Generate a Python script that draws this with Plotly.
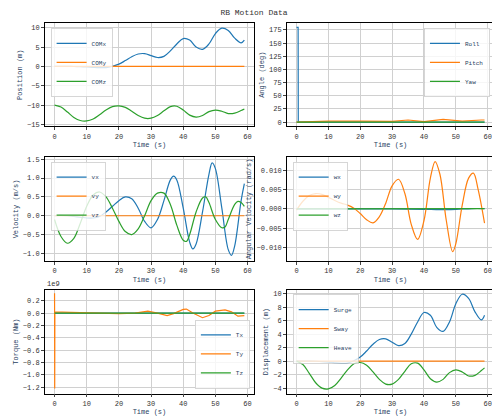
import plotly.graph_objects as go

C1, C2, C3 = "#1f77b4", "#ff7f0e", "#2ca02c"

# Position / displacement (m)
t_pos = [0,2,4,6,8,10,12,14,16,18,20,22,24,26,28,30,32,34,36,38,40,42,44,46,48,50,52,54,56,58,59]
surge = [0,0,0,-0.02,-0.07,-0.15,-0.25,-0.32,-0.3,0.05,0.6,1.5,2.5,3.2,3.3,2.8,2.3,2.6,4.0,5.8,7.2,6.8,5.0,4.4,5.8,8.5,9.9,9.3,7.3,6.1,6.8]
sway = [0]*31
heave = [0,-0.5,-1.8,-3.2,-4.0,-4.1,-3.6,-2.5,-1.3,-0.4,-0.2,-0.6,-1.6,-2.7,-3.4,-3.4,-2.7,-1.5,-0.4,-0.3,-1.3,-2.6,-3.1,-2.7,-1.7,-1.3,-1.6,-2.2,-2.1,-1.4,-1.0]
com_x = surge
com_y = sway
com_z = [-10 + h for h in heave]

# Angles (deg)
t_roll = [0,0.5,0.55,59]
roll = [180,180,0,0]
t_pitch = [0,5,10,20,30,35,40,46,52,58,59]
pitch = [0,1,2,2,1.5,4,1,5,2,4,4]
t_yaw = [0,59]
yaw = [0,0]

# Velocity (m/s)
t_vx = [0,2,4,6,8,10,12,14,16,18,20,22,24,26,28,30,32,34,36,37,38,40,42,43,44,46,48,49,50,52,54,55,56,58,59]
vx = [0,0.01,0,-0.02,-0.04,-0.06,-0.06,-0.02,0.1,0.25,0.4,0.5,0.45,0.2,-0.15,-0.32,-0.1,0.4,0.95,1.05,0.95,0.2,-0.7,-0.88,-0.75,0.1,1.1,1.4,1.25,0.2,-0.9,-1.05,-0.8,0.4,0.85]
t_vy = [0,59]
vy = [0,0]
t_vz = [0,2,4,6,8,10,12,14,16,18,20,22,24,26,28,30,32,34,36,38,40,41,42,44,46,47,48,50,52,53,54,56,57,58,59]
vz = [-0.1,-0.55,-0.73,-0.6,-0.2,0.25,0.55,0.63,0.5,0.2,-0.15,-0.42,-0.5,-0.35,0.0,0.4,0.6,0.6,0.3,-0.25,-0.65,-0.68,-0.5,0.1,0.47,0.5,0.35,-0.1,-0.32,-0.3,-0.1,0.3,0.38,0.35,0.25]

# Angular velocity (rad/s)
t_wx = [0,30,40,45,50,55,59]
wx = [0,0,-0.0001,-0.0002,-0.0001,0.0001,0.0001]
t_wy = [0,2,4,6,8,10,12,14,16,18,20,22,24,26,28,30,32,34,36,38,40,42,43.5,45,47,49,50,52,54,55.5,57,59]
wy = [-0.0003,0.002,0.0035,0.004,0.0038,0.003,0.0022,0.0015,0.001,0.0002,-0.0012,-0.0028,-0.0036,-0.002,0.0015,0.006,0.0077,0.004,-0.004,-0.0079,-0.003,0.008,0.0123,0.009,-0.003,-0.0111,-0.009,0.001,0.008,0.0093,0.005,-0.0037]
t_wz = [0,59]
wz = [0,0.0001]

# Torque (x1e9 Nm)
t_tx = [0,59]
tx = [0,0]
t_ty = [0,0.05,0.1,5,10,20,25,29,32,35,37,40,41,43,46,48,50,53,55,57,59]
ty = [0.32,-1.22,0.02,0.01,0.0,-0.01,0.0,0.03,0.0,-0.04,-0.01,0.06,0.065,0.0,-0.075,-0.04,0.03,0.05,0.02,-0.05,-0.04]
t_tz = [0,59]
tz = [0,0]

fig = go.Figure()
FONT = "Liberation Mono"
LX = [0.075,0.5]
RX = [0.567,0.988]
R1, R2, R3 = [0.71,0.963], [0.38,0.635], [0.055,0.31]

panels = [
    (LX,R1,"Position (m)",[-15.5,11.2],[-15,-10,-5,0,5,10],None,
     [(t_pos,com_x,"COMx",C1),(t_pos,com_y,"COMy",C2),(t_pos,com_z,"COMz",C3)],"spline","tl"),
    (RX,R1,"Angle (deg)",[-8,188],[0,25,50,75,100,125,150,175],None,
     [(t_roll,roll,"Roll",C1),(t_pitch,pitch,"Pitch",C2),(t_yaw,yaw,"Yaw",C3)],"linear","tr"),
    (LX,R2,"Velocity (m/s)",[-1.2,1.56],[-1.0,-0.5,0.0,0.5,1.0,1.5],".1f",
     [(t_vx,vx,"vx",C1),(t_vy,vy,"vy",C2),(t_vz,vz,"vz",C3)],"spline","tl"),
    (RX,R2,"Angular Velocity (rad/s)",[-0.0135,0.0135],[-0.01,-0.005,0,0.005,0.01],".3f",
     [(t_wx,wx,"wx",C1),(t_wy,wy,"wy",C2),(t_wz,wz,"wz",C3)],"spline","tl"),
    (LX,R3,"Torque (Nm)",[-1.3,0.38],[-1.2,-1.0,-0.8,-0.6,-0.4,-0.2,0.0,0.2],".1f",
     [(t_tx,tx,"Tx",C1),(t_ty,ty,"Ty",C2),(t_tz,tz,"Tz",C3)],"linear","br"),
    (RX,R3,"Displacement (m)",[-4.8,10.6],[-4,-2,0,2,4,6,8,10],None,
     [(t_pos,surge,"Surge",C1),(t_pos,sway,"Sway",C2),(t_pos,heave,"Heave",C3)],"spline","tl"),
]

layout = {}
for i,(xd,yd,ytitle,yr,yt,fmt,series,shape,lpos) in enumerate(panels):
    n = i+1
    lname = "legend" if n==1 else f"legend{n}"
    for (tt,vv,name,col) in series:
        fig.add_trace(go.Scatter(x=tt,y=vv,name=name,mode="lines",line=dict(color=col,width=1.2,shape=shape),
                                 xaxis=f"x{n}",yaxis=f"y{n}",legend=lname))
    ax = dict(showline=True,linecolor="black",linewidth=0.8,mirror=True,showgrid=True,gridcolor="#d0d0d0",
              zeroline=False,ticks="outside",ticklen=3,automargin=False,
              tickfont=dict(size=7,family=FONT,color="#333"))
    layout[f"xaxis{n}"] = dict(ax,domain=xd,range=[-3,62],tickvals=[0,10,20,30,40,50,60],anchor=f"y{n}",
                               title=dict(text="Time (s)",font=dict(size=7,family=FONT),standoff=2))
    yax = dict(ax,domain=yd,range=yr,tickvals=yt,anchor=f"x{n}",
               title=dict(text=ytitle,font=dict(size=7,family=FONT),standoff=3))
    if fmt: yax["tickformat"]=fmt
    layout[f"yaxis{n}"] = yax
    if lpos=="tl":
        lx,ly,xan,yan = xd[0]+0.012, yd[1]-0.012, "left","top"
    elif lpos=="tr":
        lx,ly,xan,yan = xd[1]-0.008, yd[1]-0.012, "right","top"
    else:
        lx,ly,xan,yan = xd[1]-0.008, yd[0]+0.012, "right","bottom"
    layout[lname] = dict(x=lx,y=ly,xanchor=xan,yanchor=yan,bgcolor="rgba(255,255,255,0.8)",
                         bordercolor="#ccc",borderwidth=0.8,font=dict(size=6,family=FONT),
                         tracegroupgap=0,itemwidth=30)

fig.update_layout(**layout)
fig.update_layout(width=492,height=408,autosize=False,margin=dict(l=0,r=0,t=0,b=0),
                  plot_bgcolor="white",paper_bgcolor="white",showlegend=True,
                  title=dict(text="RB Motion Data",x=0.5,y=0.997,xanchor="center",yanchor="top",
                             font=dict(size=8,family=FONT,color="#333")),
                  annotations=[dict(text="1e9",x=LX[0],y=R3[1],xref="paper",yref="paper",showarrow=False,
                                    xanchor="left",yanchor="bottom",font=dict(size=7,family=FONT,color="#333"))])
fig.write_html("out.html", config={"responsive": False})
